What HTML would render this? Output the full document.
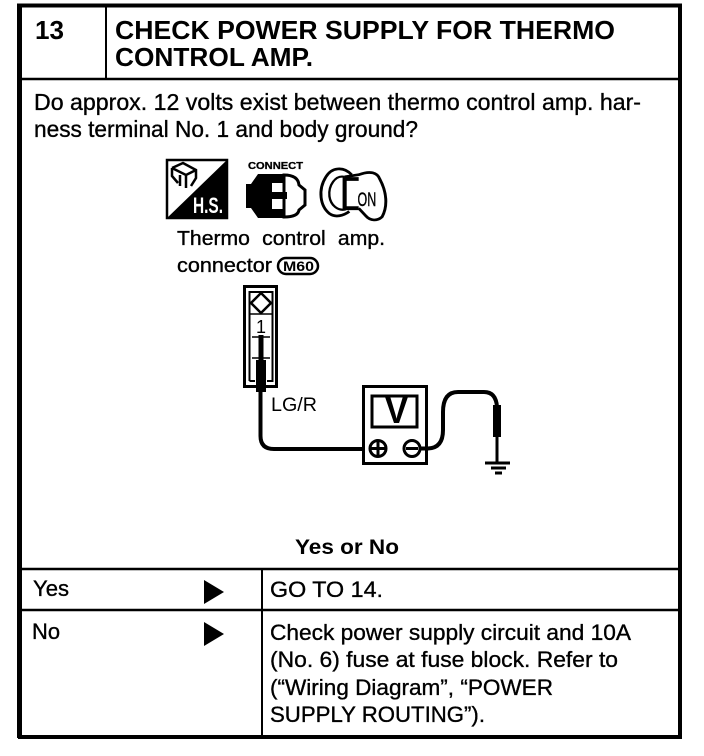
<!DOCTYPE html>
<html><head><meta charset="utf-8"><style>html,body{margin:0;padding:0;background:#fff}svg{display:block}text{font-family:"Liberation Sans",sans-serif;fill:#000}.t{stroke:#000;stroke-width:.35px}</style></head><body>
<svg width="704" height="756" viewBox="0 0 704 756" xmlns="http://www.w3.org/2000/svg">
<g stroke="#000" fill="none">
<path d="M19.500 4V738" stroke-width="5"/>
<path d="M17 5.500H682M18 737H682" stroke-width="4"/>
<path d="M680 4V738" stroke-width="4"/>
<path d="M18 79H681M18 569H681M18 610H681" stroke-width="2.500"/>
<path d="M106 6V79M262 569V737" stroke-width="2"/>
</g>
<text x="35" y="39" font-size="26" font-weight="700" textLength="29" lengthAdjust="spacingAndGlyphs">13</text>
<text x="115" y="39" font-size="26" font-weight="700" textLength="500" lengthAdjust="spacingAndGlyphs">CHECK POWER SUPPLY FOR THERMO</text>
<text x="115" y="66" font-size="26" font-weight="700" textLength="198" lengthAdjust="spacingAndGlyphs">CONTROL AMP.</text>
<g class="t">
<text x="34" y="110" font-size="23" textLength="607" lengthAdjust="spacingAndGlyphs">Do approx. 12 volts exist between thermo control amp. har-</text>
<text x="34" y="137" font-size="23" textLength="384" lengthAdjust="spacingAndGlyphs">ness terminal No. 1 and body ground?</text>
</g>
<!-- H.S. icon -->
<rect x="167" y="160" width="60" height="58" fill="#fff" stroke="#000" stroke-width="2.500"/>
<path d="M228 159V219H166Z" fill="#000"/>
<g fill="none" stroke="#000" stroke-width="2.500"><path d="M172 168L183 163L196 170V178L191 186M172 168V176L178 183M172 168L186 175L196 170M180 175V186M186 175V188"/></g>
<text x="193" y="213" font-size="22" font-weight="700" style="fill:#fff" textLength="30" lengthAdjust="spacingAndGlyphs">H.S.</text>
<!-- connect icon -->
<text x="248" y="169" font-size="10" font-weight="700" textLength="55" lengthAdjust="spacingAndGlyphs" stroke="#000" stroke-width=".3">CONNECT</text>
<path d="M284 175Q298 175 299 185L305 190V205L299 210Q298 217 284 217Z" fill="#fff" stroke="#000" stroke-width="3"/>
<path d="M285 174H258L251 184H246V208H251L258 218H285V209H272V199H287V192H272V183H285Z" fill="#000"/>
<!-- key icon -->
<g transform="translate(354 192) scale(1.17 1.08) translate(-354 -192)">
<g fill="none" stroke="#000">
<path d="M352 176C345 168 335 169 330 178C323 190 325 205 333 212C338 216 345 214 350 210" stroke-width="2.500"/>
<path d="M346 178C338 176 332 186 333 196C334 204 340 210 347 208" stroke-width="2"/>
<path d="M358 180H346V207H358" stroke-width="3.500"/>
<path d="M346 178L358 176C368 172 374 174 376 180C382 192 383 205 378 215C374 219 368 219 364 214L358 207" stroke-width="2.500"/>
</g>
<text x="357" y="205" font-size="18" textLength="16" lengthAdjust="spacingAndGlyphs" class="t">ON</text>
</g>
<g class="t">
<text x="177" y="245" font-size="20" word-spacing="6" textLength="208" lengthAdjust="spacingAndGlyphs">Thermo control amp.</text>
<text x="177" y="272" font-size="20" textLength="95" lengthAdjust="spacingAndGlyphs">connector</text>
</g>
<rect x="278" y="258" width="40" height="16" rx="8" fill="#fff" stroke="#000" stroke-width="2.500"/>
<text x="283" y="271" font-size="14" font-weight="700" textLength="31" lengthAdjust="spacingAndGlyphs">M60</text>
<!-- connector -->
<g fill="none" stroke="#000">
<rect x="244.500" y="286.500" width="32" height="100" stroke-width="3"/>
<path d="M249.500 381V292H272.500V381H267M249.500 381H255" stroke-width="2"/>
<path d="M250 314H272M252 337H270M252 358H270" stroke-width="1.500"/>
<path d="M261 293L271 303L261 313L251 303Z" stroke-width="2.500"/>
</g>
<text x="256" y="333" font-size="18" textLength="10" lengthAdjust="spacingAndGlyphs">1</text>
<path d="M261 335V361" stroke="#000" stroke-width="5"/>
<rect x="256" y="360" width="10" height="32" fill="#000"/>
<path d="M260.500 390V436Q260.500 449 274 449H366" fill="none" stroke="#000" stroke-width="4"/>
<text x="271" y="411" font-size="19" textLength="46" lengthAdjust="spacingAndGlyphs">LG/R</text>
<!-- meter -->
<g fill="none" stroke="#000">
<rect x="363.500" y="386.500" width="63" height="77" fill="#fff" stroke-width="3"/>
<rect x="372" y="396" width="45" height="31" stroke-width="3"/>
<circle cx="378" cy="448.500" r="8" stroke-width="3" fill="#fff"/>
<circle cx="412" cy="448.500" r="8" stroke-width="3" fill="#fff"/>
<path d="M378 442V455M371 448.500H385M406 448.500H418" stroke-width="3"/>
<path d="M420 448.500H428Q443 448 443 430V412Q443 392 458 392H484Q496 392 497 407" stroke-width="4"/>
<path d="M497 436V462" stroke-width="3"/>
<path d="M485 463H510" stroke-width="3"/>
<path d="M491 468H506" stroke-width="3"/>
<path d="M495 473H502" stroke-width="3"/>
</g>
<text x="385" y="423" font-size="37" font-weight="700" textLength="23" lengthAdjust="spacingAndGlyphs">V</text>
<rect x="493" y="405" width="8" height="32" fill="#000"/>
<text x="295" y="554" font-size="21.500" font-weight="700" textLength="104" lengthAdjust="spacingAndGlyphs">Yes or No</text>
<g class="t">
<text x="33" y="596" font-size="22" textLength="36" lengthAdjust="spacingAndGlyphs">Yes</text>
<text x="270" y="597" font-size="22" textLength="113" lengthAdjust="spacingAndGlyphs">GO TO 14.</text>
<text x="32" y="639" font-size="22" textLength="28" lengthAdjust="spacingAndGlyphs">No</text>
<text x="270" y="640" font-size="22.500" textLength="361" lengthAdjust="spacingAndGlyphs">Check power supply circuit and 10A</text>
<text x="270" y="667" font-size="22.500" textLength="348" lengthAdjust="spacingAndGlyphs">(No. 6) fuse at fuse block. Refer to</text>
<text x="270" y="695" font-size="22.500" textLength="283" lengthAdjust="spacingAndGlyphs">(“Wiring Diagram”, “POWER</text>
<text x="270" y="722" font-size="22.500" textLength="215" lengthAdjust="spacingAndGlyphs">SUPPLY ROUTING”).</text>
</g>
<path d="M204 580L224 592L204 604Z" fill="#000"/>
<path d="M204 622L224 634L204 646Z" fill="#000"/>
</svg>
</body></html>
